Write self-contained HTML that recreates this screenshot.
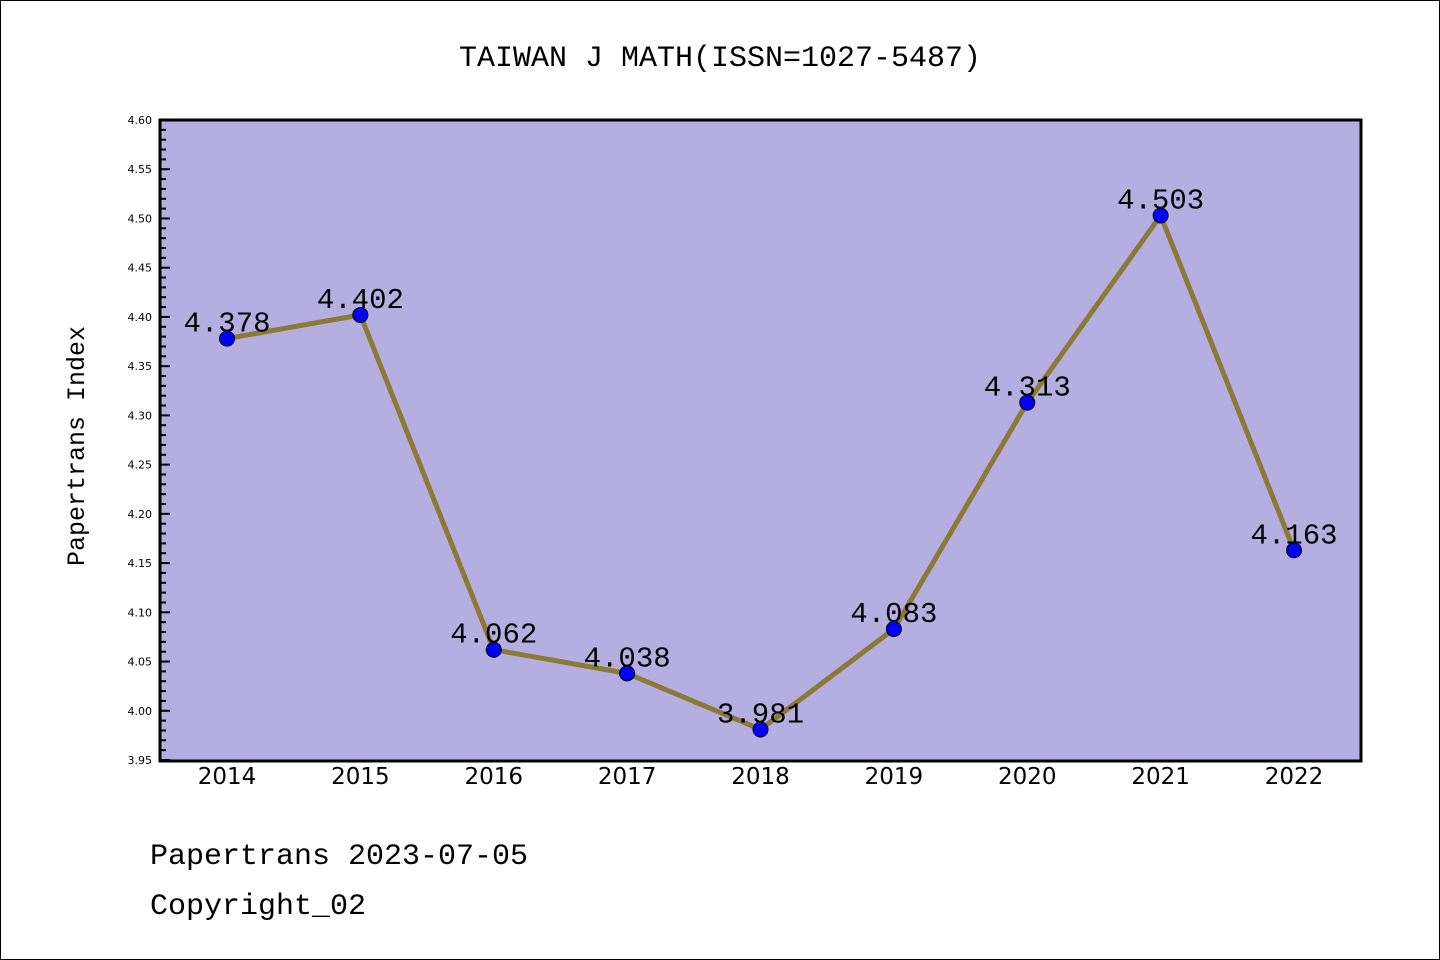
<!DOCTYPE html>
<html><head><meta charset="utf-8"><style>
body{margin:0;background:#fff;}
svg{display:block;font-family:"Liberation Mono","WenQuanYi Zen Hei",monospace;}
</style></head><body>
<svg id="c" width="1440" height="960" xmlns="http://www.w3.org/2000/svg">
<rect x="0.5" y="0.5" width="1439" height="959" fill="#fff" stroke="#000"/>
<text x="720" y="66" text-anchor="middle" font-size="30">TAIWAN J MATH(ISSN=1027-5487)</text>
<rect x="160" y="120" width="1201" height="641" fill="#b5aee1"/>
<g id="yt"></g><g id="xt"></g><g id="series"></g>
<rect x="160" y="120" width="1201" height="641" fill="none" stroke="#000" stroke-width="3"/>
<text transform="translate(84,446) rotate(-90)" text-anchor="middle" font-size="25">Papertrans Index</text>
<text x="150" y="864" font-size="30">Papertrans 2023-07-05</text>
<text x="150" y="914" font-size="30">Copyright_02</text>
</svg>
<script>
const years=['2014','2015','2016','2017','2018','2019','2020','2021','2022'];
const values=[4.378,4.402,4.062,4.038,3.981,4.083,4.313,4.503,4.163];
const yTicks=['3.95','4.00','4.05','4.10','4.15','4.20','4.25','4.30','4.35','4.40','4.45','4.50','4.55','4.60'];
const NS='http://www.w3.org/2000/svg';
const yMinV=3.95,yMaxV=4.60,yTopPx=120,yBotPx=760;
const yS=v=>yBotPx-(v-yMinV)/(yMaxV-yMinV)*(yBotPx-yTopPx);
const xS=i=>227+i*(1294-227)/(years.length-1);
function mk(t,a,p){const e=document.createElementNS(NS,t);for(const k in a)e.setAttribute(k,a[k]);p.appendChild(e);return e;}
const ytG=document.getElementById('yt');
for(let k=0;k<=65;k++){const v=yMinV+k*0.01;const maj=k%5===0;
 const l=mk('line',{x1:160,x2:160+(maj?10:6),y1:yS(v),y2:yS(v),stroke:'#000','stroke-width':2},ytG);
 
 }
yTicks.forEach(t=>{const e=mk('text',{x:152,y:yS(+t)+4,'text-anchor':'end','font-size':11,'font-family':'DejaVu Sans, sans-serif'},ytG);e.textContent=t;
 
 });
const xtG=document.getElementById('xt');
years.forEach((t,i)=>{const e=mk('text',{x:xS(i),y:784,'text-anchor':'middle','font-size':23,'font-family':'DejaVu Sans, sans-serif'},xtG);e.textContent=t;
 
 });
const sG=document.getElementById('series');
const pl=mk('polyline',{points:values.map((v,i)=>xS(i)+','+yS(v)).join(' '),fill:'none',stroke:'#8b7a35','stroke-width':5,'stroke-linejoin':'round'},sG);


values.forEach((v,i)=>{const c=mk('circle',{cx:xS(i),cy:yS(v),r:7.5,fill:'#0000ff',stroke:'#000','stroke-width':1},sG);
 
 
 const t=mk('text',{x:xS(i),y:yS(v)-7,'text-anchor':'middle','font-size':29},sG);t.textContent=v.toFixed(3);
 
 });
</script>
</body></html>
